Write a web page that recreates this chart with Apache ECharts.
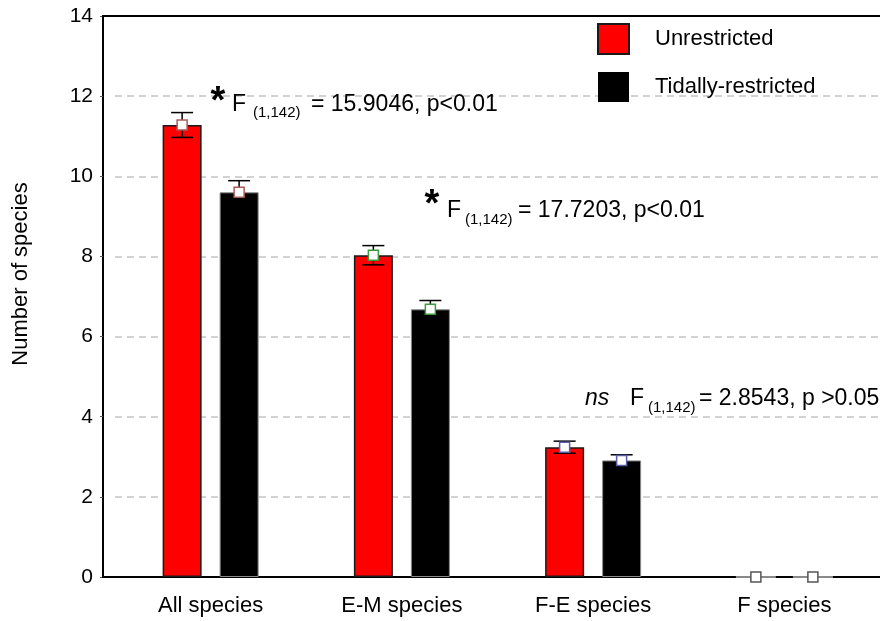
<!DOCTYPE html>
<html><head><meta charset="utf-8">
<script src="https://cdn.jsdelivr.net/npm/echarts@6/dist/echarts.min.js"></script>
<style>html,body{margin:0;padding:0;background:#fff}#c{width:880px;height:621px}</style>
</head><body><div id="c"></div>
<script>
// ---- data ----
const categories = ['All species', 'E-M species', 'F-E species', 'F species'];
const seriesNames = ['Unrestricted', 'Tidally-restricted'];
const unrestrictedMean = [11.28, 8.03, 3.24, 0];
const unrestrictedErr = [0.31, 0.24, 0.15, 0];
const tidalMean = [9.60, 6.68, 2.91, 0];
const tidalErr = [0.29, 0.22, 0.14, 0];
const yMin = 0, yMax = 14, yInterval = 2;
const yTitle = 'Number of species';
const annotation1 = ['*', 'F', '(1,142)', '= 15.9046, p<0.01'];
const annotation2 = ['*', 'F', '(1,142)', '= 17.7203, p<0.01'];
const annotation3 = ['ns', 'F', '(1,142)', '= 2.8543, p >0.05'];

// ---- style ----
const FONT = '"Liberation Sans", Arial, sans-serif';
const markerColors = ['#a85a5a', '#3c9a3c', '#5c5ca8', '#555555'];
const BAR_W = 39, BAR_GAP = 18;
const OFF = (BAR_W + BAR_GAP) / 2;

function errSeries(name, means, errs, off) {
  return {
    type: 'custom', name: name, z: 10, silent: true,
    data: means.map((m, i) => [i, m, errs[i]]),
    renderItem(params, api) {
      const i = api.value(0), m = api.value(1), e = api.value(2);
      const c = api.coord([i, m]);
      const x = c[0] + off;
      const ch = [];
      if (e > 0) {
        const yt = api.coord([i, m + e])[1], yb = api.coord([i, m - e])[1];
        const st = { stroke: '#000', lineWidth: 1.5 };
        ch.push({ type: 'line', shape: { x1: x, y1: yt, x2: x, y2: yb }, style: st });
        ch.push({ type: 'line', shape: { x1: x - 11, y1: yt, x2: x + 11, y2: yt }, style: st });
        ch.push({ type: 'line', shape: { x1: x - 11, y1: yb, x2: x + 11, y2: yb }, style: st });
      } else {
        ch.push({ type: 'line', shape: { x1: x - 20, y1: c[1], x2: x + 20, y2: c[1] },
          style: { stroke: '#8a8a8a', lineWidth: 2 } });
      }
      ch.push({ type: 'rect', shape: { x: x - 5, y: c[1] - 5, width: 10, height: 10 },
        style: { fill: '#fff', stroke: markerColors[i], lineWidth: 1.5 } });
      return { type: 'group', children: ch };
    }
  };
}

function txt(text, x, baseline, size, opt) {
  opt = opt || {};
  const y = baseline - 0.3465 * size;
  return {
    type: 'text', z: 20, silent: true,
    style: {
      text: text, x: x, y: y,
      font: (opt.italic ? 'italic ' : '') + (opt.bold ? 'bold ' : '') + size + 'px ' + FONT,
      fill: '#000', textAlign: opt.align || 'left', align: opt.align || 'left',
      textVerticalAlign: 'middle', verticalAlign: 'middle'
    }
  };
}

function annot(parts, xs, base, subBase, firstBase, firstSize) {
  const isStar = parts[0] === '*';
  return [
    isStar ? txt(parts[0], xs[0], firstBase, firstSize, { bold: true, align: 'center' })
           : txt(parts[0], xs[0], firstBase, firstSize, { italic: true }),
    txt(parts[1], xs[1], base, 23),
    txt(parts[2], xs[2], subBase, 15),
    txt(parts[3], xs[3], base, 23)
  ];
}

const graphics = [
  { type: 'line', z: 5, shape: { x1: 102, y1: 16, x2: 880, y2: 16 }, style: { stroke: '#000', lineWidth: 2 } },
  { type: 'line', z: 5, shape: { x1: 102, y1: 577, x2: 118, y2: 577 }, style: { stroke: '#000', lineWidth: 2 } },
  {
    type: 'text', x: 21, y: 274, rotation: Math.PI / 2, silent: true,
    style: { text: yTitle, font: '22px ' + FONT, fill: '#000', textAlign: 'center', align: 'center',
      textVerticalAlign: 'middle', verticalAlign: 'middle' }
  }
].concat(
  annot(annotation1, [218, 232, 253, 311], 113, 118, 116, 38),
  annot(annotation2, [432, 447, 465, 518], 219, 225, 219, 38),
  annot(annotation3, [585, 630, 648, 699], 407, 413, 407, 23)
);

const chart = echarts.init(document.getElementById('c'), null, { renderer: 'canvas' });
chart.setOption({
  animation: false,
  backgroundColor: '#fff',
  textStyle: { fontFamily: FONT },
  grid: { left: 115, right: -7, top: 16, bottom: 44, containLabel: false },
  legend: {
    data: [
      { name: seriesNames[0] },
      { name: seriesNames[1], itemStyle: { borderColor: '#000', borderWidth: 0 } }
    ],
    orient: 'vertical', left: 597, top: 23, padding: 0,
    itemWidth: 31, itemHeight: 30, itemGap: 17, icon: 'rect', selectedMode: false,
    textStyle: { fontSize: 22, color: '#000', fontFamily: FONT, padding: [0, 0, 0, 21] }
  },
  xAxis: {
    type: 'category', data: categories,
    axisLine: { lineStyle: { color: '#000', width: 2 } },
    axisTick: { show: false },
    axisLabel: { fontSize: 22, color: '#000', margin: 18, fontFamily: FONT },
    splitLine: { show: false }
  },
  yAxis: {
    type: 'value', min: yMin, max: yMax, interval: yInterval, offset: 12,
    axisLine: { show: true, lineStyle: { color: '#000', width: 2 } },
    axisTick: { show: true, length: 3, lineStyle: { color: '#555' } },
    axisLabel: { fontSize: 21, color: '#000', margin: 10, fontFamily: FONT },
    splitLine: { show: true, lineStyle: { color: '#c4c4c4', type: [7, 5], width: 1.5 } }
  },
  series: [
    {
      type: 'bar', name: seriesNames[0], data: unrestrictedMean,
      barWidth: BAR_W, barGap: (BAR_GAP / BAR_W * 100) + '%',
      itemStyle: { color: '#ff0000', borderColor: '#1a1a1a', borderWidth: 1.5 }
    },
    {
      type: 'bar', name: seriesNames[1], data: tidalMean,
      barWidth: BAR_W,
      itemStyle: { color: '#000000', borderColor: '#8a8a8a', borderWidth: 1 }
    },
    errSeries('errU', unrestrictedMean, unrestrictedErr, -OFF),
    errSeries('errT', tidalMean, tidalErr, OFF)
  ],
  graphic: graphics
});
</script>
</body></html>
